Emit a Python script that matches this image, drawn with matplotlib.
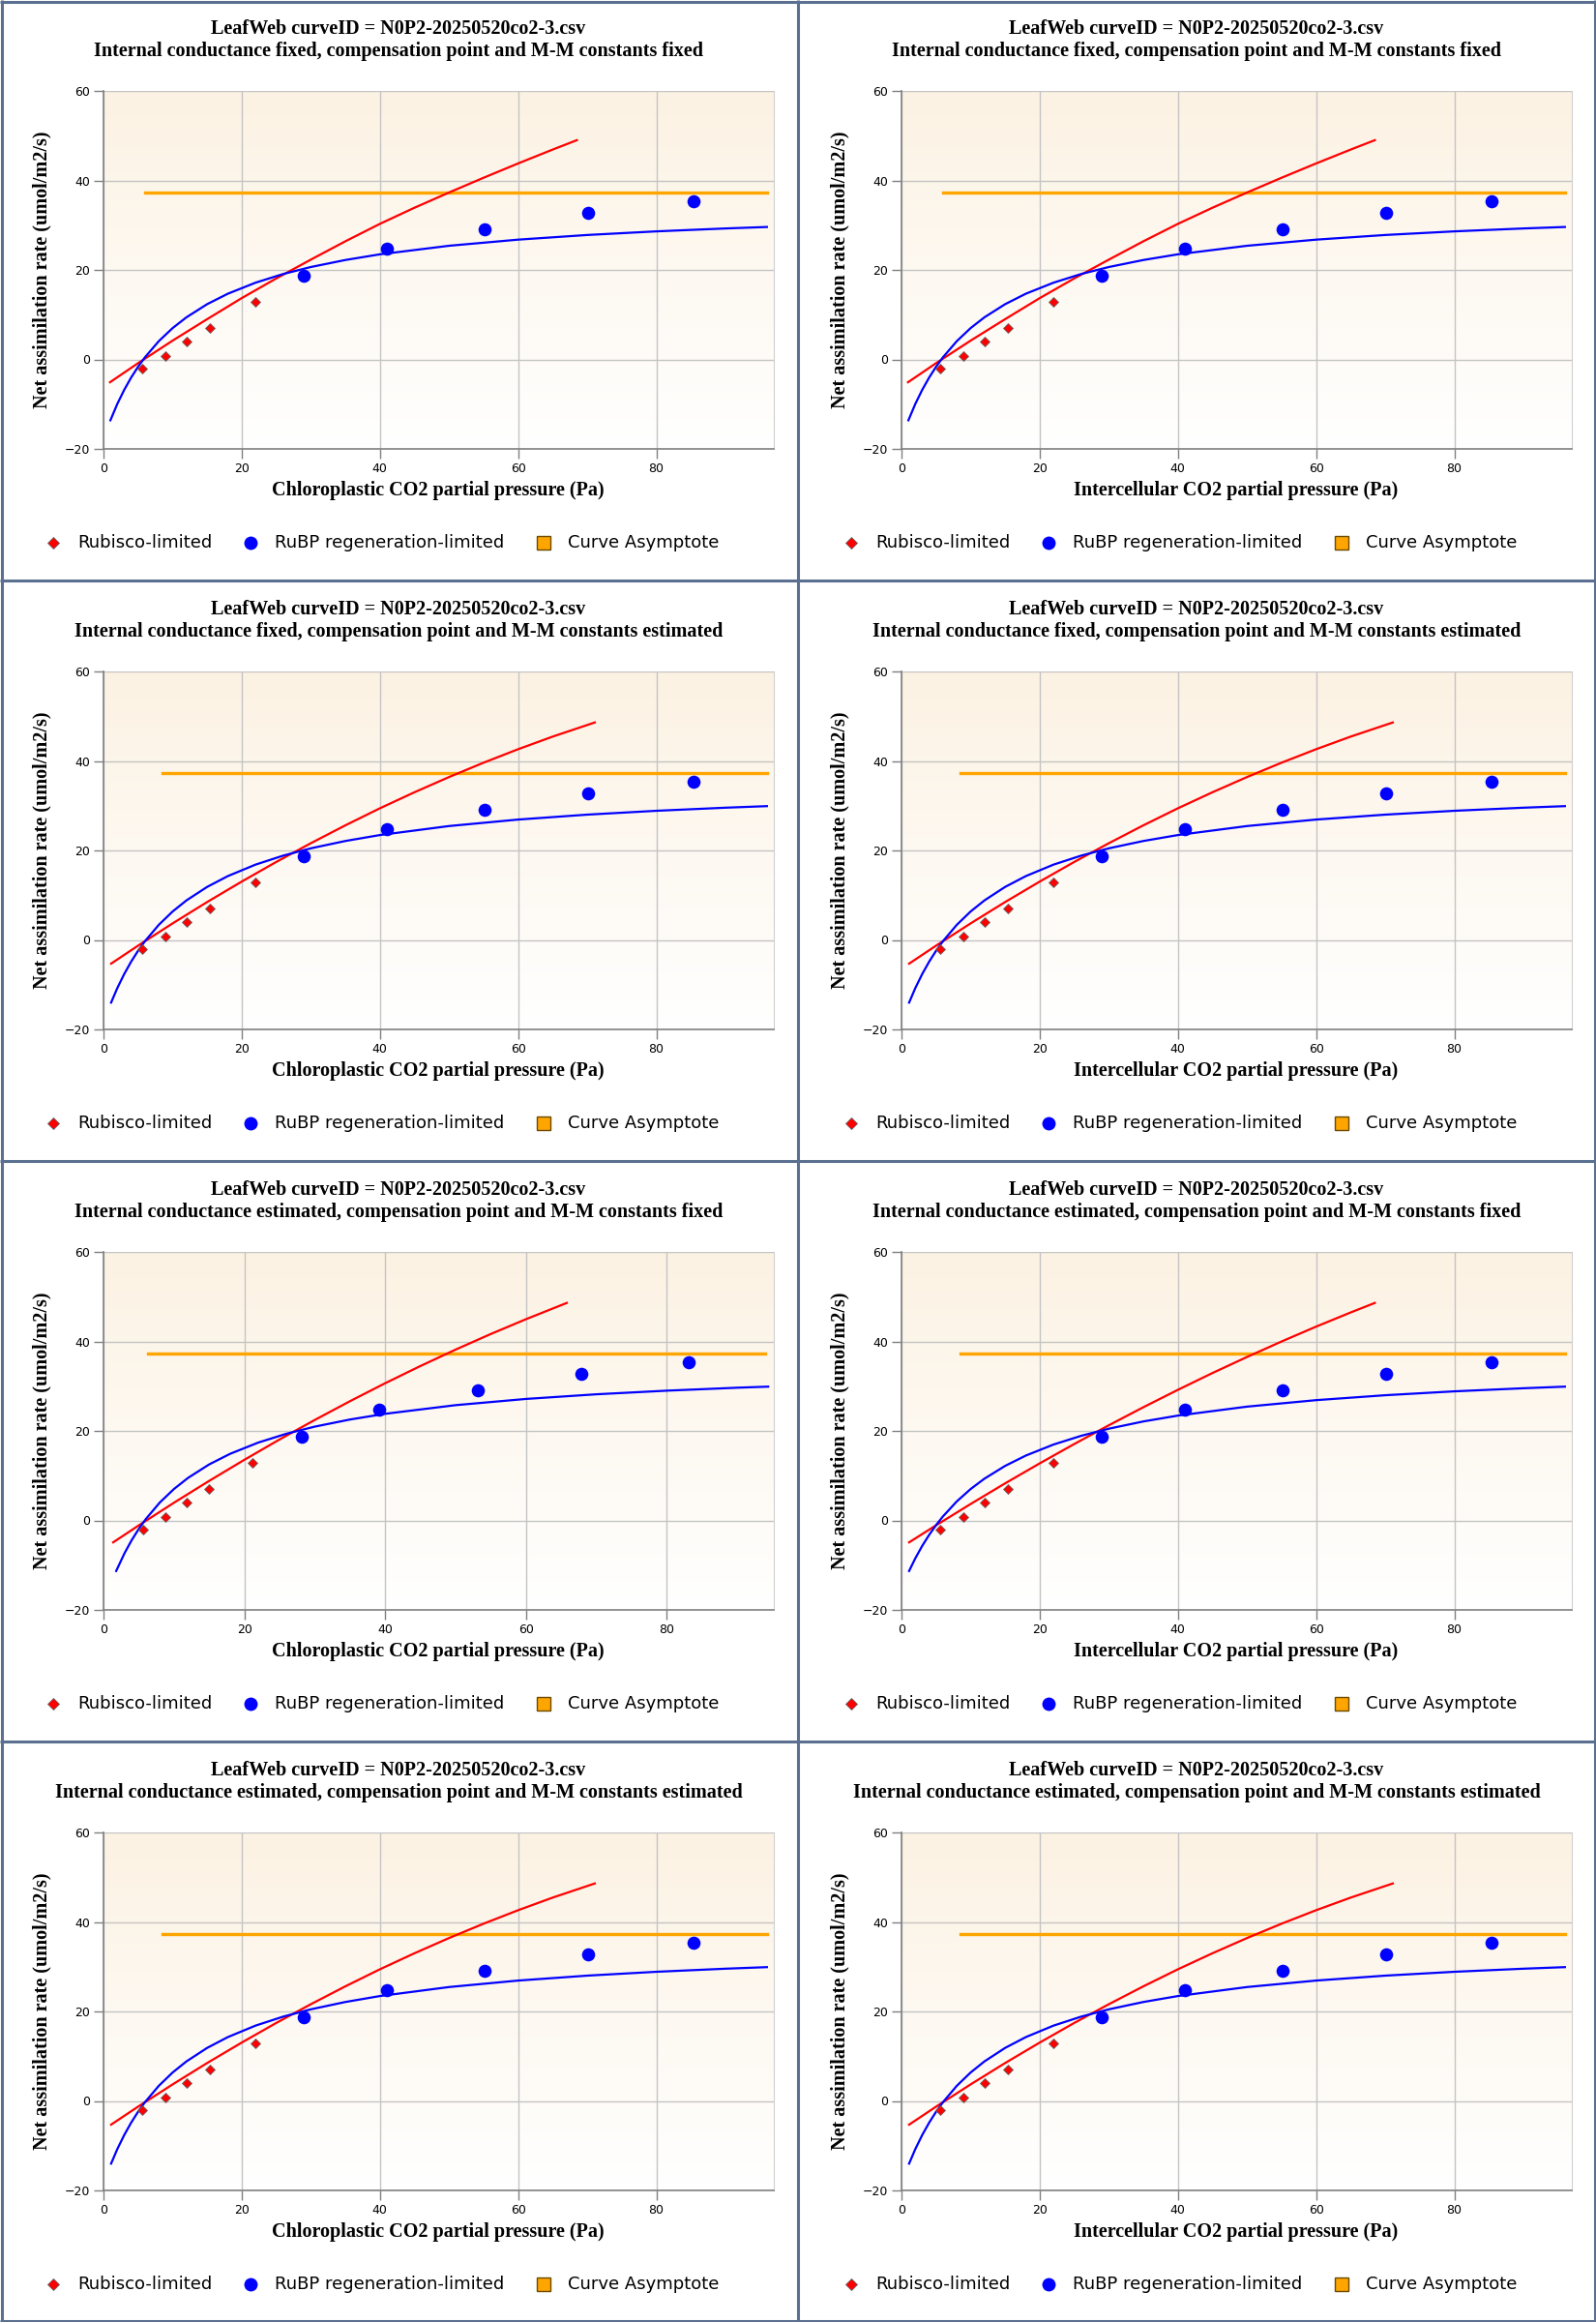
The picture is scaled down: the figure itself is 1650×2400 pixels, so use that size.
import numpy as np
import matplotlib
matplotlib.use("Agg")
import matplotlib.pyplot as plt
from matplotlib.colors import LinearSegmentedColormap
from matplotlib.lines import Line2D

# measured points (same for every fit, shifted on Cc when gm is estimated)
rubisco_x = [5.6, 9.0, 12.1, 15.4, 22.0]
rubisco_y = [-2.1, 0.7, 3.9, 7.0, 12.9]
rubp_x = [29.0, 41.0, 55.2, 70.1, 85.4]
rubp_y = [18.7, 24.8, 29.0, 32.8, 35.4]
rubisco_x_gm = [5.6, 8.8, 11.85, 14.95, 21.2]
rubp_x_gm = [28.1, 39.2, 53.1, 67.9, 83.1]

asym_y = 37.3

# fitted curves
# a: gm fixed, cp fixed
red_x_a = [0.94, 5, 10, 15, 20, 25, 30, 35, 40, 45, 50, 55, 60, 65, 68.5]
red_y_a = [-5.1, -0.84, 4.2, 9.0, 13.7, 18.1, 22.3, 26.4, 30.3, 33.9, 37.3, 40.6, 43.8, 46.9, 49.0]
blue_x_a = [1, 2, 3, 4, 5, 6, 8, 10, 12, 15, 18, 22, 26, 30, 35, 40, 50, 60, 70, 80, 90, 96]
blue_y_a = [-13.6, -9.94, -6.79, -4.05, -1.64, 0.48, 4.08, 7.0, 9.41, 12.35, 14.69, 17.15, 19.09,
            20.65, 22.22, 23.49, 25.4, 26.77, 27.81, 28.62, 29.27, 29.6]
asym_x_a = [6.0, 96.0]

# b: cp estimated
red_x_b = [1.1, 5, 10, 15, 20, 25, 30, 35, 40, 45, 50, 55, 60, 65, 71.1]
red_y_b = [-5.3, -1.28, 3.69, 8.47, 13.04, 17.43, 21.61, 25.61, 29.42, 33.0, 36.4, 39.61, 42.62, 45.44, 48.6]
blue_x_b = [1.1, 2, 3, 4, 5, 6, 8, 10, 12, 15, 18, 22, 26, 30, 35, 40, 50, 60, 70, 80, 90, 96]
blue_y_b = [-14.01, -10.76, -7.61, -4.86, -2.43, -0.28, 3.37, 6.35, 8.83, 11.85, 14.27, 16.83, 18.84,
            20.47, 22.11, 23.44, 25.45, 26.9, 28.0, 28.86, 29.55, 29.9]
asym_x_b = [8.5, 96.0]

# c: gm estimated, cp fixed, on Ci
red_x_c = [1.1, 5, 10, 15, 20, 25, 30, 35, 40, 45, 50, 55, 60, 65, 68.5]
red_y_c = [-4.9, -1.09, 3.67, 8.29, 12.75, 17.08, 21.26, 25.3, 29.19, 32.94, 36.53, 39.99, 43.31, 46.48, 48.61]
blue_x_c = [1.1, 2, 3, 4, 5, 6, 8, 10, 12, 15, 18, 22, 26, 30, 35, 40, 50, 60, 70, 80, 90, 96]
blue_y_c = [-11.3, -8.46, -5.68, -3.23, -1.05, 0.9, 4.25, 7.01, 9.33, 12.19, 14.5, 16.96, 18.91,
            20.5, 22.12, 23.43, 25.43, 26.88, 27.98, 28.85, 29.54, 29.9]
asym_x_c = [8.5, 96.0]

# d: gm estimated, cp fixed, on Cc
red_x_d = [1.37, 5, 10, 15, 20, 25, 30, 35, 40, 45, 50, 55, 60, 65.8]
red_y_d = [-4.9, -1.12, 3.95, 8.83, 13.54, 18.09, 22.45, 26.64, 30.66, 34.5, 38.17, 41.66, 44.97, 48.61]
blue_x_d = [1.8, 3, 4, 5, 6, 8, 10, 12, 15, 18, 22, 26, 30, 35, 40, 50, 60, 70, 80, 90, 94.4]
blue_y_d = [-11.3, -7.28, -4.42, -1.92, 0.29, 4.01, 7.01, 9.5, 12.51, 14.9, 17.41, 19.38, 20.96,
            22.55, 23.83, 25.76, 27.15, 28.19, 29.0, 29.66, 29.9]
asym_x_d = [6.3, 93.9]

title_top = "LeafWeb curveID = N0P2-20250520co2-3.csv"
subtitles = [
    "Internal conductance fixed, compensation point and M-M constants fixed",
    "Internal conductance fixed, compensation point and M-M constants estimated",
    "Internal conductance estimated, compensation point and M-M constants fixed",
    "Internal conductance estimated, compensation point and M-M constants estimated",
]
xlabels = ["Chloroplastic CO2 partial pressure (Pa)", "Intercellular CO2 partial pressure (Pa)"]
ylabel = "Net assimilation rate (umol/m2/s)"
legend_labels = ["Rubisco-limited", "RuBP regeneration-limited", "Curve Asymptote"]

curves = {
    "a": (red_x_a, red_y_a, blue_x_a, blue_y_a, asym_x_a),
    "b": (red_x_b, red_y_b, blue_x_b, blue_y_b, asym_x_b),
    "c": (red_x_c, red_y_c, blue_x_c, blue_y_c, asym_x_c),
    "d": (red_x_d, red_y_d, blue_x_d, blue_y_d, asym_x_d),
}
panel_curve = ["a", "a", "b", "b", "d", "c", "b", "b"]

W, H = 1650, 2400
PW, PH = 825, 600
fig = plt.figure(figsize=(W / 100, H / 100), dpi=100)
fig.patch.set_facecolor("white")


def fx(px):
    return px / W


def fy(py):
    return 1 - py / H


bg = LinearSegmentedColormap.from_list("bg", ["#ffffff", "#fcf2e3"])
grad = np.linspace(0, 1, 256).reshape(-1, 1)
serif = dict(family="Liberation Serif", weight="bold", size=14.5)

for i in range(8):
    row, col = divmod(i, 2)
    ox, oy = col * PW, row * PH
    key = panel_curve[i]
    rx, ry, bx, by, ax_x = curves[key]
    if key == "d":
        px_r, px_b, xmax = rubisco_x_gm, rubp_x_gm, 95.2
    else:
        px_r, px_b, xmax = rubisco_x, rubp_x, 97.0

    ax = fig.add_axes([fx(ox + 107), fy(oy + 464), (800 - 107) / W, (464 - 94) / H])
    ax.imshow(grad, cmap=bg, origin="lower", extent=(0, 1, 0, 1),
              transform=ax.transAxes, aspect="auto", zorder=0)
    ax.set_xlim(0, xmax)
    ax.set_ylim(-20, 60)
    ax.set_xticks([0, 20, 40, 60, 80])
    ax.set_yticks([-20, 0, 20, 40, 60])
    ax.set_axisbelow(True)
    ax.grid(color="#c4c4c4", lw=1)
    ax.spines["top"].set_visible(False)
    ax.spines["right"].set_color("#d0d0d0")
    for s in ["left", "bottom"]:
        ax.spines[s].set_color("#808080")
        ax.spines[s].set_linewidth(1.2)
    ax.tick_params(direction="out", length=7, width=1, color="#808080",
                   labelsize=9, pad=3, labelcolor="black")

    ax.plot(ax_x, [asym_y, asym_y], color="#ffa500", lw=2.4, zorder=2)
    ax.plot(rx, ry, color="#ff0000", lw=1.6, zorder=3)
    ax.plot(bx, by, color="#0000ff", lw=1.6, zorder=3)
    ax.plot(px_r, rubisco_y, "D", ms=5.6, mfc="#ff0000", mec="#666666", mew=0.6,
            ls="none", zorder=4)
    ax.plot(px_b, rubp_y, "o", ms=9.8, mfc="#0000ff", mec="#0000ff", mew=0,
            ls="none", zorder=4)

    fig.text(fx(ox + 412), fy(oy + 30), title_top, ha="center", va="center", **serif)
    fig.text(fx(ox + 412), fy(oy + 53), subtitles[row], ha="center", va="center", **serif)
    fig.text(fx(ox + 453), fy(oy + 507), xlabels[col], ha="center", va="center", **serif)
    fig.text(fx(ox + 43), fy(oy + 279), ylabel, ha="center", va="center",
             rotation=90, **serif)

    ly = fy(oy + 561)
    fig.add_artist(Line2D([fx(ox + 55)], [ly], marker="D", ms=6.2, mfc="#ff0000",
                          mec="#666666", mew=0.6, transform=fig.transFigure))
    fig.add_artist(Line2D([fx(ox + 259)], [ly], marker="o", ms=10, mfc="#0000ff",
                          mec="#0000ff", mew=0, transform=fig.transFigure))
    fig.add_artist(Line2D([fx(ox + 562)], [ly], marker="s", ms=10, mfc="#ffa500",
                          mec="#6b4a00", mew=1, transform=fig.transFigure))
    for lx, lab in zip([80, 284, 587], legend_labels):
        fig.text(fx(ox + lx), ly, lab, ha="left", va="center",
                 family="DejaVu Sans", size=13)

# panel borders
border = dict(color="#5b7090", lw=2.2, transform=fig.transFigure, solid_capstyle="butt")
for xb in [1.5, 825, 1648.5]:
    fig.add_artist(Line2D([fx(xb), fx(xb)], [0, 1], **border))
for yb in [1.5, 600, 1200, 1800, 2398.5]:
    fig.add_artist(Line2D([0, 1], [fy(yb), fy(yb)], **border))

fig.savefig("out.png", dpi=100)
